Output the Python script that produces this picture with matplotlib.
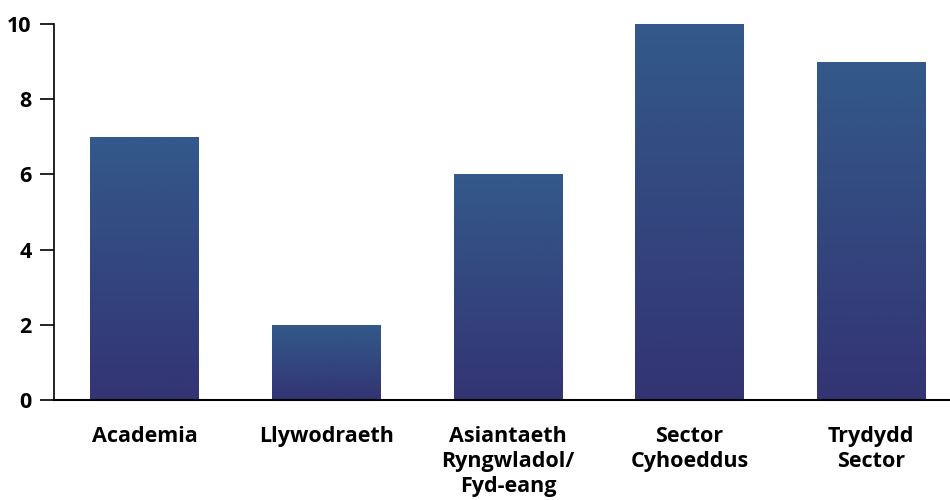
import numpy as np
import matplotlib
matplotlib.use('Agg')
import matplotlib.pyplot as plt
from matplotlib.colors import LinearSegmentedColormap

# Chart data
categories = ['Academia', 'Llywodraeth', 'Asiantaeth\nRyngwladol/\nFyd-eang',
              'Sector\nCyhoeddus', 'Trydydd\nSector']
values = [7, 2, 6, 10, 9]
y_ticks = [0, 2, 4, 6, 8, 10]

plt.rcParams['font.family'] = ['Open Sans', 'DejaVu Sans']

fig = plt.figure(figsize=(9.5, 5), dpi=100)
ax = fig.add_axes([54 / 950, 0.2, 908 / 950, 0.752])

# vertical gradient, dark at the bottom, lighter blue at the top
grad_cmap = LinearSegmentedColormap.from_list('bar_grad', ['#333473', '#33598a'])
grad = np.linspace(0, 1, 256).reshape(-1, 1)

x = np.arange(len(categories))
bars = ax.bar(x, values, width=0.6, color='none', edgecolor='none')
for bar in bars:
    bx, by = bar.get_x(), bar.get_y()
    bw, bh = bar.get_width(), bar.get_height()
    im = ax.imshow(grad, cmap=grad_cmap, origin='lower', aspect='auto',
                   extent=[bx, bx + bw, by, by + bh], zorder=2)
    im.set_clip_path(bar)

ax.set_xlim(-0.5, len(categories) - 0.5)
ax.set_ylim(0, 10)
ax.set_yticks(y_ticks)
ax.set_yticklabels([str(t) for t in y_ticks], fontsize=15.5, fontweight='bold')
ax.set_xticks(x)
ax.set_xticklabels(categories, fontsize=15.5, fontweight='bold', linespacing=1.25,
                   va='top')

ax.tick_params(axis='y', direction='out', length=10, width=1.2, pad=6, colors='black')
ax.tick_params(axis='x', length=0, pad=19)

for side in ['top', 'right']:
    ax.spines[side].set_visible(False)
ax.spines['left'].set_linewidth(1.2)
ax.spines['bottom'].set_linewidth(1.5)
ax.spines['bottom'].set_zorder(3)

fig.savefig('out.png', dpi=100)
